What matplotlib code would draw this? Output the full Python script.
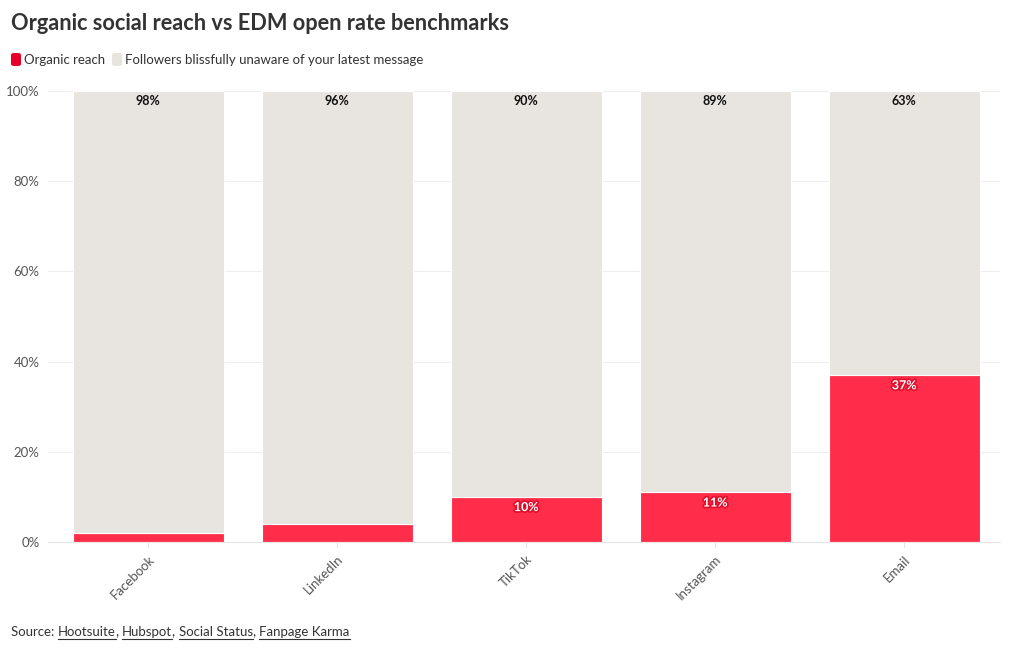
import numpy as np
import matplotlib.pyplot as plt
import matplotlib.patheffects as pe
from matplotlib.patches import FancyBboxPatch

plt.rcParams['font.family'] = ['Lato', 'DejaVu Sans']

platforms = ['Facebook', 'LinkedIn', 'TikTok', 'Instagram', 'Email']
reach = [2, 4, 10, 11, 37]
unaware = [98, 96, 90, 89, 63]

red = '#ff2d4a'
grey = '#e8e4df'

fig = plt.figure(figsize=(10.2, 6.5), dpi=100)
ax = fig.add_axes([48/1020, 1 - 542/650, 952/1020, 451/650])

x = np.arange(len(platforms))
ax.bar(x, reach, width=0.8, color=red, edgecolor='white', linewidth=0.8, zorder=2)
ax.bar(x, unaware, bottom=reach, width=0.8, color=grey, edgecolor='white', linewidth=0.8, zorder=2)

# value labels
for i in range(len(platforms)):
    top = reach[i] + unaware[i]
    ax.annotate(f'{unaware[i]}%', (x[i], top), xytext=(0, -3), textcoords='offset points',
                ha='center', va='top', fontsize=9, fontweight='bold', color='#111111', zorder=3)
    if reach[i] >= 10:
        ax.annotate(f'{reach[i]}%', (x[i], reach[i]), xytext=(0, -3), textcoords='offset points',
                    ha='center', va='top', fontsize=9, fontweight='bold', color='white', zorder=3,
                    path_effects=[pe.withStroke(linewidth=2.5, foreground='#e0102c')])

ax.set_xlim(-0.53, 4.507)
ax.set_ylim(0, 100)
ax.set_yticks([0, 20, 40, 60, 80, 100])
ax.set_yticklabels([f'{v}%' for v in range(0, 101, 20)])
ax.set_xticks(x)
ax.set_xticklabels(platforms, rotation=45, ha='right', rotation_mode='anchor')
ax.tick_params(axis='y', length=0, labelsize=9.5, labelcolor='#555555', pad=6)
ax.tick_params(axis='x', length=4, color='#e6e6e6', labelsize=9.5, labelcolor='#555555', pad=4)
ax.grid(axis='y', color='#eeeeee', linewidth=0.8, zorder=0)
for s in ['top', 'right', 'left']:
    ax.spines[s].set_visible(False)
ax.spines['bottom'].set_color('#e6e6e6')

fig.text(11/1020, 1 - 24/650, 'Organic social reach vs EDM open rate benchmarks',
         fontsize=15.7, fontweight='bold', color='#333333', va='center', ha='left')

# legend
def legend_item(xpx, color, label):
    fig.patches.append(FancyBboxPatch((xpx/1020, 1 - 66/650), 10/1020, 13/650,
                                      boxstyle='round,pad=0,rounding_size=0.003',
                                      transform=fig.transFigure, facecolor=color, edgecolor='none'))
    fig.text((xpx + 13)/1020, 1 - 60/650, label, fontsize=9.5, color='#333333', va='center', ha='left')

legend_item(11, '#e8002b', 'Organic reach')
legend_item(112, grey, 'Followers blissfully unaware of your latest message')

# source line
t1 = fig.text(11/1020, 1 - 632/650, 'Source: ', fontsize=9.5, color='#333333', va='center', ha='left')
fig.canvas.draw()
r = fig.canvas.get_renderer()
xpos = t1.get_window_extent(r).x1
for k, part in enumerate(['Hootsuite', 'Hubspot', 'Social Status', 'Fanpage Karma']):
    t = fig.text(xpos/1020, 1 - 632/650, part, fontsize=9.5, color='#333333', va='center', ha='left')
    bb = t.get_window_extent(r)
    fig.add_artist(plt.Line2D([bb.x0/1020, bb.x1/1020], [(bb.y0 - 1)/650] * 2,
                              transform=fig.transFigure, color='#333333', linewidth=0.8))
    xpos = bb.x1
    if k < 3:
        c = fig.text(xpos/1020, 1 - 632/650, ', ', fontsize=9.5, color='#333333', va='center', ha='left')
        xpos = c.get_window_extent(r).x1

fig.savefig('out.png', dpi=100)
